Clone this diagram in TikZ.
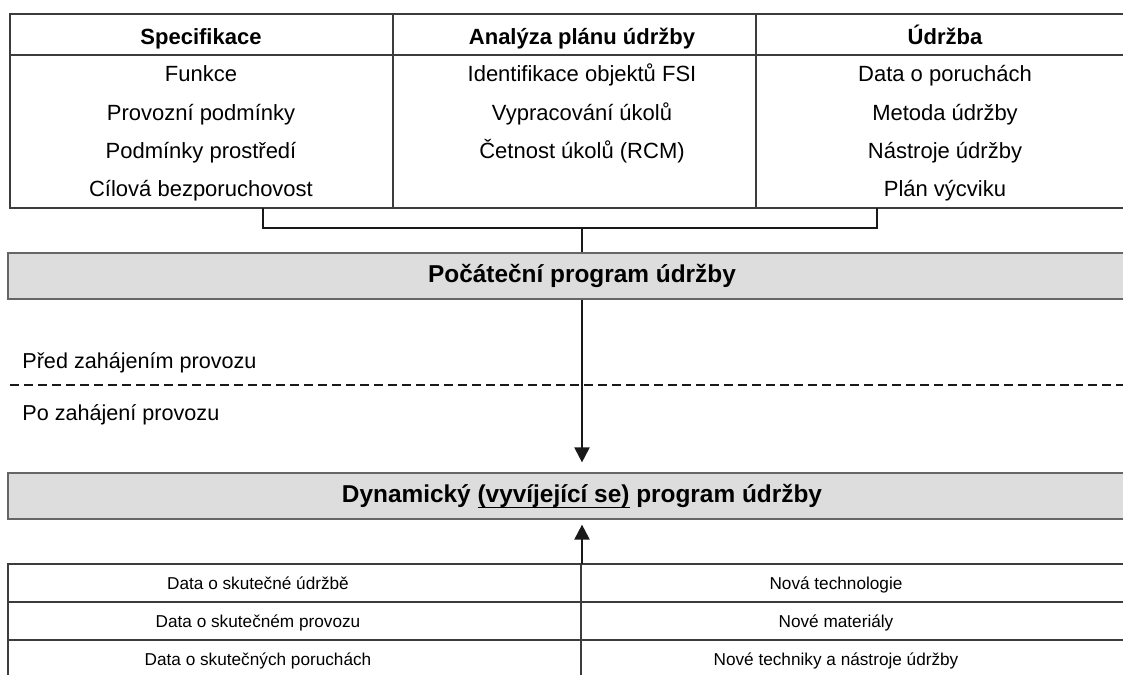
\documentclass[tikz,border=0pt]{standalone}
\usepackage{fontspec}
\setmainfont{Liberation Sans}
\usepackage{xcolor}
\usetikzlibrary{arrows.meta,positioning,calc}

\definecolor{boxgrey}{HTML}{DDDDDD}
\definecolor{linegrey}{HTML}{3C3C3C}

% underline for one part of a label
\newcommand\ulpart[1]{\setbox0\hbox{#1}\rlap{\rule[-3pt]{\wd0}{0.7pt}}\box0\relax}

\tikzset{
  tabline/.style={draw=linegrey, line width=0.6pt},
  conn/.style={draw=black!90, line width=1pt},
  prgbox/.style={draw=black!60, fill=boxgrey, line width=0.6pt, inner sep=0pt,
    minimum width=574pt, minimum height=23pt, font=\bfseries\fontsize{12.2}{14}\selectfont},
  cell/.style={anchor=base, inner sep=0pt, font=\fontsize{11}{13}\selectfont},
  headcell/.style={cell, font=\bfseries\fontsize{11}{13}\selectfont},
  smallcell/.style={anchor=base, inner sep=0pt, font=\fontsize{8.6}{10}\selectfont},
  sidelabel/.style={anchor=base west, inner sep=0pt, font=\fontsize{10.8}{13}\selectfont}
}

\begin{document}
\begin{tikzpicture}[x=0.5pt, y=-0.5pt, >={Triangle[length=7.5pt,width=7.5pt]}]

\path[use as bounding box, clip] (0,0) rectangle (1123,674);

% ------------------ top table ------------------
\draw[tabline] (1140,14) -- (10,14) -- (10,208) -- (1140,208);
\draw[tabline] (10,55) -- (1140,55);
\draw[tabline] (393,14) -- (393,208);
\draw[tabline] (756,14) -- (756,208);

\node[headcell] (spec) at (201,45) {Specifikace};
\node[headcell] (anal) at (582,45) {Analýza plánu údržby};
\node[headcell] (udrz) at (945,45) {Údržba};

\foreach \t [count=\i] in {Funkce, Provozní podmínky, Podmínky prostředí, Cílová bezporuchovost}
  \node[cell] (spec\i) at (201,{44+38*\i}) {\t};
\foreach \t [count=\i] in {Identifikace objektů FSI, Vypracování úkolů, Četnost úkolů (RCM)}
  \node[cell] (anal\i) at (582,{44+38*\i}) {\t};
\foreach \t [count=\i] in {Data o poruchách, Metoda údržby, Nástroje údržby, Plán výcviku}
  \node[cell] (udrz\i) at (945,{44+38*\i}) {\t};

% ------------------ programme boxes ------------------
\node[prgbox] (init) at (582,276) {Počáteční program údržby};
\node[prgbox] (dyn) at (582,496) {Dynamický \ulpart{(vyvíjející se)} program údržby};

% bracket from the table down to the first box
\coordinate (specfoot) at (263,208);
\coordinate (udrzfoot) at (877,208);
\coordinate (joint) at (582,228);
\draw[conn] (specfoot) |- (joint) -| (udrzfoot);
\draw[conn] (joint) -- (init);

% before / after start of operation
\draw[black!90, line width=0.75pt, dash pattern=on 4.5pt off 2.5pt] (10,385) -- (1140,385);
\node[sidelabel] (before) at (22,368) {Před zahájením provozu};
\node[sidelabel] (after) at (22,420) {Po zahájení provozu};

\draw[conn,->, shorten >=5pt] (init) -- (dyn);

% ------------------ bottom table ------------------
\coordinate (bottop) at (582,564);
\draw[tabline] (1140,564) -- (8,564) -- (8,690);
\draw[tabline] (8,602) -- (1140,602);
\draw[tabline] (8,640) -- (1140,640);
\draw[tabline] (581,564) -- (581,690);

\foreach \t [count=\i] in {Data o skutečné údržbě, Data o skutečném provozu, Data o skutečných poruchách}
  \node[smallcell] (real\i) at (258,{551+38*\i}) {\t};
\foreach \t [count=\i] in {Nová technologie, Nové materiály, Nové techniky a nástroje údržby}
  \node[smallcell] (new\i) at (836,{551+38*\i}) {\t};

\draw[conn,->, shorten >=2.5pt] (bottop) -- (dyn);

\end{tikzpicture}
\end{document}
